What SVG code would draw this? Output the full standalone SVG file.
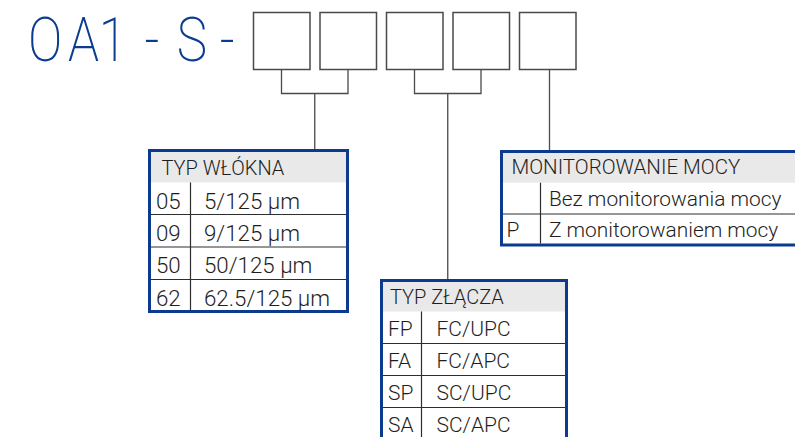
<svg xmlns="http://www.w3.org/2000/svg" width="795" height="437" viewBox="0 0 795 437">
  <style>
    .title { font-family: Roboto, "Liberation Sans", sans-serif; font-weight: 200; font-size: 61px; fill: #0c3c91; }
    .box { fill: #ffffff; stroke: #4a4a4a; stroke-width: 1.5; }
    .conn { fill: none; stroke: #4a4a4a; stroke-width: 1.3; }
    .frame { fill: none; stroke: #0b3a8e; stroke-width: 3; }
    .head { fill: #e9e9e9; }
    .rule { stroke: #2e2e2e; stroke-width: 1.2; fill: none; }
    .th { font-family: Roboto, "Liberation Sans", sans-serif; font-weight: 300; font-size: 20px; fill: #1e1e1e; }
    .th3 { font-family: Roboto, "Liberation Sans", sans-serif; font-weight: 300; font-size: 20.5px; fill: #1e1e1e; }
    .td1 { font-family: Roboto, "Liberation Sans", sans-serif; font-weight: 300; font-size: 22.3px; fill: #1e1e1e; }
    .td { font-family: Roboto, "Liberation Sans", sans-serif; font-weight: 300; font-size: 21px; fill: #1e1e1e; }
    .td3 { font-family: Roboto, "Liberation Sans", sans-serif; font-weight: 300; font-size: 20.9px; fill: #1e1e1e; }
  </style>
  <rect width="795" height="437" fill="#ffffff"/>

  <g id="title">
    <text class="title" transform="scale(0.84,1)" x="33.3 81 117.5 150 172 195 210.5 245 261.5" y="60.7">OA1 - S -</text>
  </g>

  <g id="box1"><rect class="box" x="253.5" y="12.5" width="56.5" height="57"/></g>
  <g id="box2"><rect class="box" x="320" y="12.5" width="56.5" height="57"/></g>
  <g id="box3"><rect class="box" x="386.5" y="12.5" width="56.5" height="57"/></g>
  <g id="box4"><rect class="box" x="453" y="12.5" width="56.5" height="57"/></g>
  <g id="box5"><rect class="box" x="519.5" y="12.5" width="56.5" height="57"/></g>

  <g id="connectors">
    <polyline class="conn" points="281.5,69.5 281.5,93.5 348,93.5 348,69.5"/>
    <line class="conn" x1="314.75" y1="93.5" x2="314.75" y2="149"/>
    <polyline class="conn" points="414.5,69.5 414.5,93.5 481,93.5 481,69.5"/>
    <line class="conn" x1="447.75" y1="93.5" x2="447.75" y2="279"/>
    <line class="conn" x1="549.5" y1="69.5" x2="549.5" y2="150"/>
  </g>

  <g id="typ-wlokna">
    <rect class="head" x="151" y="152" width="195" height="30.5"/>
    <line class="rule" x1="151" y1="214.5" x2="346" y2="214.5"/>
    <line class="rule" x1="151" y1="247" x2="346" y2="247"/>
    <line class="rule" x1="151" y1="279.5" x2="346" y2="279.5"/>
    <line class="rule" x1="190.5" y1="182.5" x2="190.5" y2="310"/>
    <rect class="frame" x="149.5" y="150.5" width="198" height="161"/>
    <text class="th" x="161.5" y="174.5">TYP WŁÓKNA</text>
    <text class="td1" x="156" y="208.5">05</text>
    <text class="td1" x="204" y="208.5">5/125 µm</text>
    <text class="td1" x="156" y="240.5">09</text>
    <text class="td1" x="204" y="240.5">9/125 µm</text>
    <text class="td1" x="156" y="273">50</text>
    <text class="td1" x="204" y="273">50/125 µm</text>
    <text class="td1" x="156" y="305.5">62</text>
    <text class="td1" x="204" y="305.5">62.5/125 µm</text>
  </g>

  <g id="typ-zlacza">
    <rect class="head" x="383" y="282" width="182" height="29.5"/>
    <line class="rule" x1="383" y1="343.5" x2="565" y2="343.5"/>
    <line class="rule" x1="383" y1="375.5" x2="565" y2="375.5"/>
    <line class="rule" x1="383" y1="407.5" x2="565" y2="407.5"/>
    <line class="rule" x1="421.5" y1="311.5" x2="421.5" y2="440"/>
    <rect class="frame" x="381.5" y="280.5" width="185" height="175"/>
    <text class="th" x="390" y="303.5">TYP ZŁĄCZA</text>
    <text class="td" x="388" y="335.5">FP</text>
    <text class="td" x="436.5" y="335.5">FC/UPC</text>
    <text class="td" x="388" y="367.5">FA</text>
    <text class="td" x="436.5" y="367.5">FC/APC</text>
    <text class="td" x="388" y="400">SP</text>
    <text class="td" x="436.5" y="400">SC/UPC</text>
    <text class="td" x="388" y="432">SA</text>
    <text class="td" x="436.5" y="432">SC/APC</text>
  </g>

  <g id="monitorowanie-mocy">
    <rect class="head" x="503" y="153" width="300" height="29.7"/>
    <line class="rule" x1="503" y1="214" x2="800" y2="214"/>
    <line class="rule" x1="540.5" y1="182.7" x2="540.5" y2="243.5"/>
    <rect class="frame" x="501.5" y="151.5" width="310" height="93.5"/>
    <text class="th3" x="511.5" y="173.5">MONITOROWANIE MOCY</text>
    <text class="td3" x="549" y="206">Bez monitorowania mocy</text>
    <text class="td3" x="506.5" y="237">P</text>
    <text class="td3" x="549" y="237">Z monitorowaniem mocy</text>
  </g>
</svg>
